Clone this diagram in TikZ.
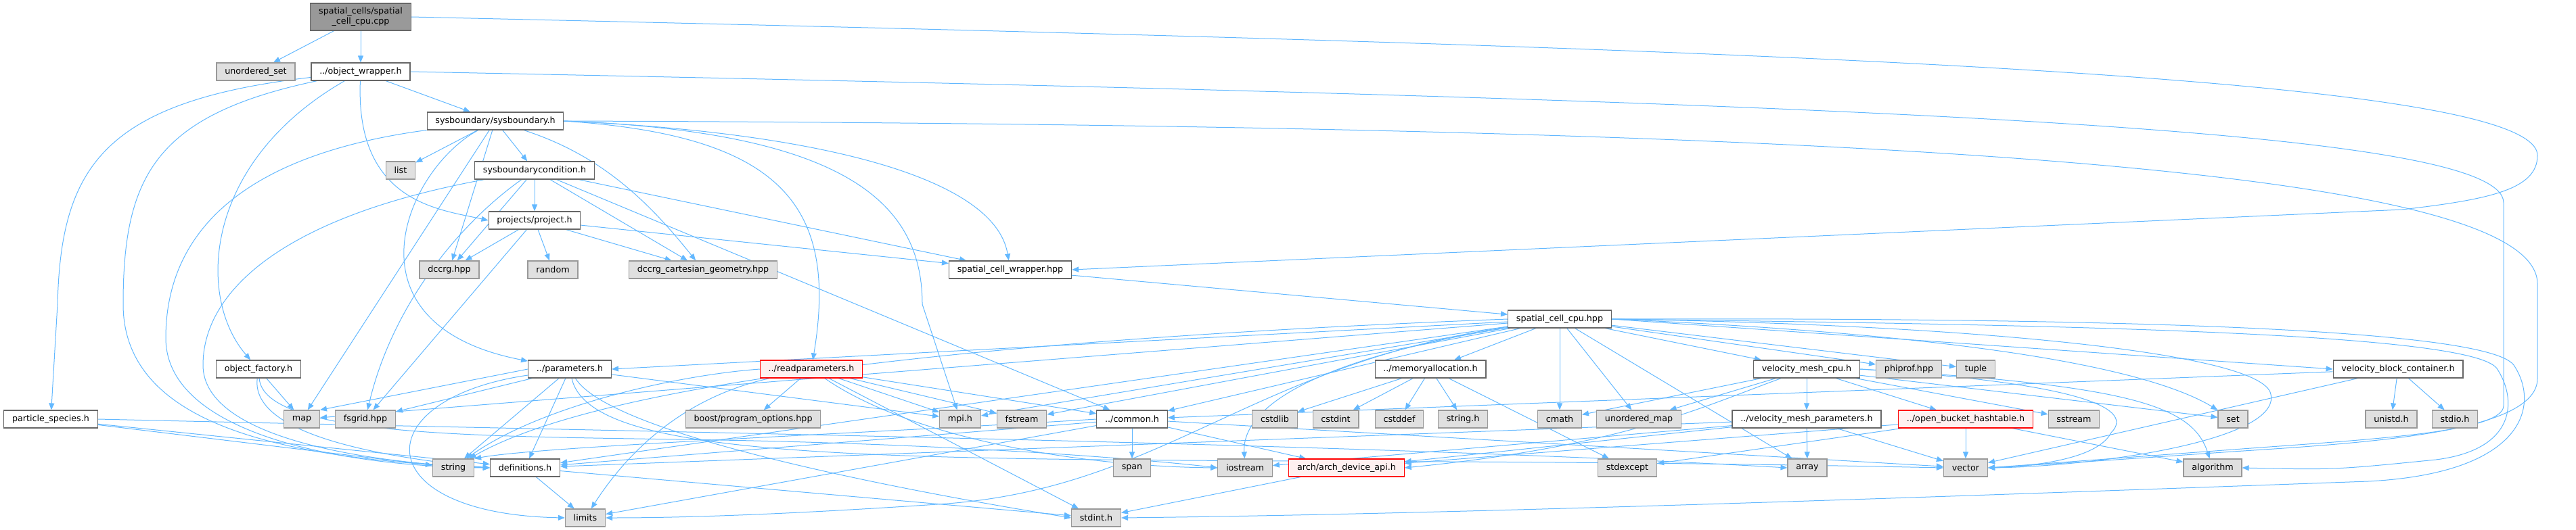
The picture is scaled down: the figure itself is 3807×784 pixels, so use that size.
\documentclass[tikz,border=0pt]{standalone}
\usepackage{fontspec}
\setmainfont{DejaVu Sans}
\usepackage{tikz}
\usetikzlibrary{arrows.meta, backgrounds}
\definecolor{DoxEdge}{RGB}{99,184,255}
\definecolor{DoxBorder}{RGB}{102,102,102}
\definecolor{SysFill}{RGB}{224,224,224}
\definecolor{SysBorder}{RGB}{153,153,153}
\definecolor{MainFill}{RGB}{153,153,153}
\definecolor{TruncFill}{RGB}{255,240,240}

\begin{document}
\begin{tikzpicture}[x=1pt, y=-1pt,
      base/.style={rectangle, minimum height=26pt, inner xsep=12.3pt, inner ysep=0pt,
                   line width=1.2pt, font=\fontsize{12.7}{15}\selectfont},
      hdr/.style={base, draw=DoxBorder, fill=white},
      sys/.style={base, draw=SysBorder, fill=SysFill},
      trunc/.style={base, draw=red, fill=TruncFill},
      mainfile/.style={base, draw=DoxBorder, fill=MainFill, minimum height=40pt, align=center},
      inc/.style={-{Triangle[length=10pt, width=8pt]}, DoxEdge, line width=1pt}
    ]
    \useasboundingbox (0,0) rectangle (3807,784);

    %--- Project headers ---
    \node[mainfile] (cpp) at (533,25) {spatial\_cells/spatial\\\_cell\_cpu.cpp};
    \node[hdr] (objw)   at (533,106)  {../object\_wrapper.h};
    \node[hdr] (sysb)   at (732,179)  {sysboundary/sysboundary.h};
    \node[hdr] (sbc)    at (790,252)  {sysboundarycondition.h};
    \node[hdr] (proj)   at (790,326)  {projects/project.h};
    \node[hdr] (scw)    at (1493,399) {spatial\_cell\_wrapper.hpp};
    \node[hdr] (scc)    at (2305,472) {spatial\_cell\_cpu.hpp};
    \node[hdr] (objf)   at (382,546)  {object\_factory.h};
    \node[hdr] (param)  at (842,546)  {../parameters.h};
    \node[hdr] (memal)  at (2114,546) {../memoryallocation.h};
    \node[hdr] (vmc)    at (2670,546) {velocity\_mesh\_cpu.h};
    \node[hdr] (vbc)    at (3544,546) {velocity\_block\_container.h};
    \node[hdr] (pspec)  at (75,620)   {particle\_species.h};
    \node[hdr] (common) at (1673,620) {../common.h};
    \node[hdr] (vmp)    at (2670,620) {../velocity\_mesh\_parameters.h};
    \node[hdr] (defs)   at (776,692)  {definitions.h};

    %--- Truncated headers ---
    \node[trunc] (readp) at (1199,546) {../readparameters.h};
    \node[trunc] (obh)   at (2905,620) {../open\_bucket\_hashtable.h};
    \node[trunc] (arch)  at (1990,692) {arch/arch\_device\_api.h};

    %--- System headers ---
    \foreach \n/\x/\y/\t in {uset/378/106/unordered\_set, list/592/252/list,
        dccrg/664/399/dccrg.hpp, random/817/399/random,
        dcg/1039/399/dccrg\_cartesian\_geometry.hpp,
        phiprof/2821/546/phiprof.hpp, tuple/2920/546/tuple,
        map/446/620/map, fsgrid/540/620/fsgrid.hpp,
        boost/1113/620/{boost/program\_options.hpp}, mpi/1419/620/mpi.h,
        fstream/1510/620/fstream, cstdlib/1884/620/cstdlib,
        cstdint/1974/620/cstdint, cstddef/2068/620/cstddef,
        stringh/2162/620/string.h, cmath/2305/620/cmath,
        umap/2422/620/unordered\_map, sstream/3065/620/sstream,
        set/3300/620/set, unistd/3534/620/unistd.h, stdio/3628/620/stdio.h,
        string/670/692/string, span/1673/692/span, iostream/1840/692/iostream,
        stdexcept/2405/692/stdexcept, array/2671/692/array,
        vector/2905/692/vector, algorithm/3270/692/algorithm,
        limits/865/766/limits, stdint/1620/766/stdint.h} {
      \node[sys] (\n) at (\x,\y) {\t};
    }

    \begin{scope}[on background layer]
      %--- Straight includes ---
      \foreach \a/\b in {cpp/uset, cpp/objw, objw/sysb,
          sysb/list, sysb/sbc, sysb/dccrg, sysb/map,
          sbc/proj, sbc/dccrg, sbc/dcg, sbc/scw, sbc/common,
          proj/dccrg, proj/fsgrid, proj/random, proj/dcg, proj/scw,
          scw/scc, objf/map, pspec/string, pspec/defs,
          param/fsgrid, param/string, param/defs, param/mpi,
          readp/boost, readp/stdint, readp/mpi, readp/fstream, readp/common,
          common/defs, common/limits, common/vector, common/span, common/arch,
          arch/stdint, defs/limits, defs/stdint,
          memal/cstdlib, memal/cstdint, memal/cstddef, memal/stringh, memal/stdexcept,
          vmc/cmath, vmc/umap, vmc/vmp, vmc/obh, vmc/sstream, vmc/set,
          vmp/defs, vmp/iostream, vmp/arch, vmp/array, vmp/vector,
          obh/arch, obh/stdexcept, obh/vector, obh/algorithm,
          vbc/common, vbc/unistd, vbc/stdio, vbc/vector,
          scc/memal, scc/cmath, scc/umap, scc/vmc, scc/phiprof, scc/tuple,
          scc/array, scc/mpi, scc/fstream, scc/common, scc/map, scc/defs} {
        \draw[inc] (\a) -- (\b);
      }
      \draw[inc] (param.west) -- (map.north east);
      \draw[inc] (scc) -- (param.east);
      \draw[inc] (scc.east) -- (vbc.west);

      %--- Routed around the left ---
      \draw[inc] (objw) .. controls (150,150) and (90,250) .. (85,450) -- (pspec);
      \draw[inc] (objw) .. controls (230,170) and (182,260) .. (182,450)
                 .. controls (182,640) and (450,680) .. (defs.west);
      \draw[inc] (objw) .. controls (300,240) and (290,440) .. (objf);
      \draw[inc] (objw) .. controls (525,300) and (650,310) .. (proj.west);
      \draw[inc] (sysb) .. controls (350,230) and (245,350) .. (245,500)
                 .. controls (245,640) and (500,690) .. (defs.west);
      \draw[inc] (sysb) .. controls (600,250) and (500,480) .. (param);
      \draw[inc] (sysb) .. controls (890,230) and (960,300) .. (dcg);
      \draw[inc] (sbc) .. controls (420,320) and (300,430) .. (300,540)
                 .. controls (300,650) and (550,685) .. (defs.west);
      \draw[inc] (sbc) .. controls (680,330) and (580,450) .. (fsgrid);
      \draw[inc] (objf) .. controls (370,640) and (550,675) .. (defs.west);
      \draw[inc] (objf) .. controls (390,645) and (700,645) .. (1000,650)
                 .. controls (1400,655) and (1700,680) .. (iostream.west);
      \draw[inc] (pspec.east) .. controls (1000,640) and (2000,655) .. (array.west);
      \draw[inc] (param) .. controls (540,590) and (540,760) .. (limits.west);
      \draw[inc] (param) .. controls (900,640) and (1300,720) .. (stdint.west);
      \draw[inc] (param) .. controls (880,720) and (1600,665) .. (vector.west);
      \draw[inc] (readp.west) .. controls (1000,555) and (800,600) .. (string);
      \draw[inc] (readp) .. controls (1000,590) and (920,680) .. (limits);
      \draw[inc] (readp) .. controls (1350,650) and (1600,690) .. (iostream.west);
      \draw[inc] (common.west) .. controls (1300,640) and (800,660) .. (string.north east);

      %--- Routed to the right ---
      \draw[inc] (sysb.east) .. controls (1150,200) and (1240,300) .. (readp);
      \draw[inc] (sysb.east) .. controls (1250,195) and (1363,300) .. (1363,450) -- (mpi);
      \draw[inc] (sysb.east) .. controls (1200,195) and (1470,260) .. (scw);
      \draw[inc] (vmc) .. controls (2520,600) and (2400,660) .. (arch.east);
      \draw[inc] (vmc.east) .. controls (3150,570) and (3240,600) .. (algorithm);
      \draw[inc] (vmc.east) .. controls (3050,565) and (3160,600) .. (3120,640)
                 .. controls (3100,680) and (3000,690) .. (vector.east);
      \draw[inc] (scc.east) .. controls (2800,490) and (3150,530) .. (set);
      \draw[inc] (scc) .. controls (1950,530) and (1835,600) .. (iostream);
      \draw[inc] (scc.west) .. controls (1500,500) and (900,560) .. (string);
      \draw[inc] (scc) .. controls (1850,540) and (1720,720) .. (1400,745)
                 .. controls (1150,762) and (1000,766) .. (limits.east);
      \draw[inc] (scc.east) .. controls (2900,480) and (3330,520) .. (3355,580)
                 .. controls (3380,650) and (3100,690) .. (vector.east);
      \draw[inc] (scc.east) .. controls (3000,480) and (3650,490) .. (3690,545)
                 .. controls (3720,590) and (3720,665) .. (3600,680)
                 .. controls (3450,695) .. (algorithm.east);
      \draw[inc] (scc.east) .. controls (3000,470) and (3670,480) .. (3715,540)
                 .. controls (3755,600) and (3730,700) .. (3500,712)
                 .. controls (3000,730) and (2200,760) .. (stdint.east);

      %--- Long loops round the right edge ---
      \draw[inc] (cpp.east) .. controls (2600,70) and (3750,110) .. (3750,230)
                 .. controls (3750,280) and (3680,295) .. (3550,310) -- (scw.east);
      \draw[inc] (objw.east) .. controls (2800,150) and (3700,190) .. (3700,300)
                 -- (3700,600) .. controls (3700,640) and (3500,650) .. (3300,665)
                 .. controls (3100,680) .. (vector.east);
      \draw[inc] (sysb.east) .. controls (2800,185) and (3750,250) .. (3750,420)
                 -- (3750,560) .. controls (3750,640) and (3500,655) .. (3300,668)
                 .. controls (3100,682) .. (vector.east);
    \end{scope}
  \end{tikzpicture}
\end{document}
